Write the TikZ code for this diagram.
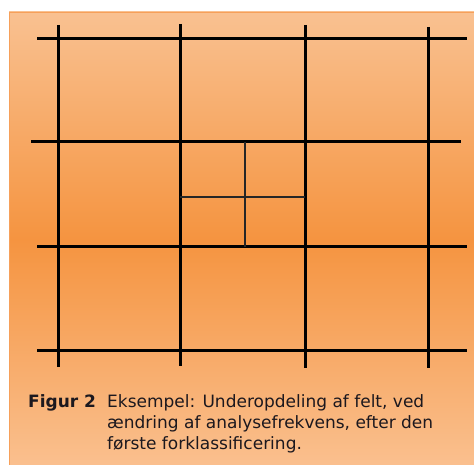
\documentclass[tikz,border=0pt]{standalone}
\usepackage{fontspec}
\setmainfont{DejaVu Sans}
\definecolor{paneltop}{RGB}{249,193,145}
\definecolor{panelmid}{RGB}{245,148,64}
\definecolor{panelbot}{RGB}{250,192,143}
\definecolor{paneledge}{RGB}{246,160,90}
\definecolor{captext}{RGB}{28,24,30}
\begin{document}
\begin{tikzpicture}[x=1pt,y=-1pt,
    gridline/.style={black, line width=3pt},
    subline/.style={black!85, line width=2pt},
    caption/.style={anchor=base west, inner sep=0pt, text=captext,
      font=\fontsize{17}{21}\selectfont}]
    % taille de l'image : 474 x 465
    \useasboundingbox (0,0) rectangle (474,465);

    % fond orange
    \shade[top color=paneltop, bottom color=panelbot, middle color=panelmid]
      (9,12) rectangle (476,467);
    \draw[paneledge, line width=1.2pt] (9.6,467) -- (9.6,12.6) -- (476,12.6);

    % lignes verticales epaisses
    \foreach \x/\ytop/\ybot in {58/25/367, 180/24/366, 305/25/368, 428/27/368}
      \draw[gridline] (\x,\ytop) -- (\x,\ybot);

    % lignes horizontales epaisses
    \foreach \y/\xl/\xr in {39/37/467, 142/31/461, 247/37/467, 350/37/467}
      \draw[gridline] (\xl,\y) -- (\xr,\y);

    % subdivision du champ du milieu
    \draw[subline] (245,142) -- (245,247);
    \draw[subline] (180,197) -- (305,197);

    % legende
    \node[caption, font=\fontsize{17}{21}\selectfont\bfseries] (figlabel) at (28,407) {Figur 2};
    \node[caption] (capline1) at (107,407) {Eksempel: Underopdeling af felt, ved};
    \node[caption] (capline2) at (107,428) {ændring af analysefrekvens, efter den};
    \node[caption] (capline3) at (107,449) {første forklassificering.};
\end{tikzpicture}
\end{document}
